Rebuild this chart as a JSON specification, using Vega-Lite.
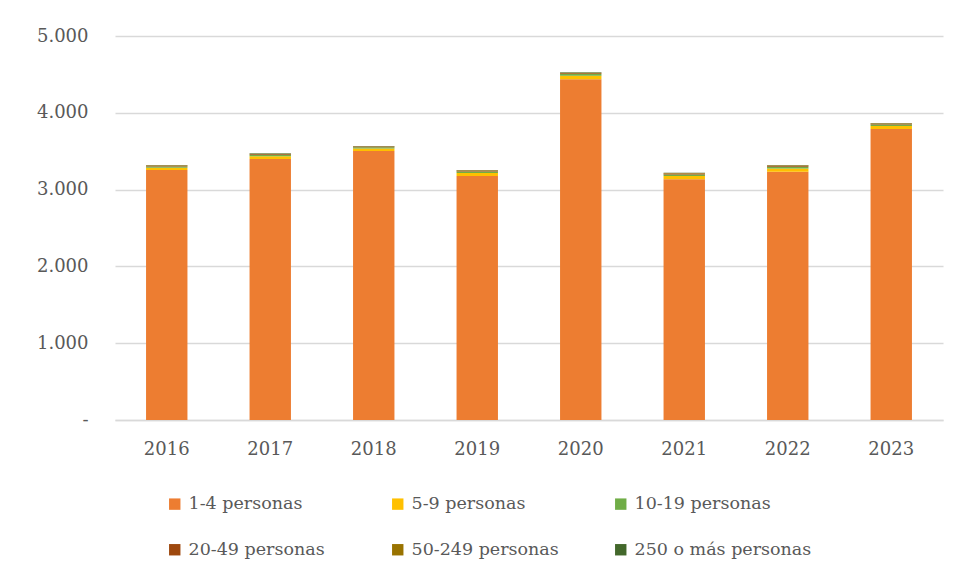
{
  "$schema": "https://vega.github.io/schema/vega-lite/v6.json",
  "width": 828,
  "height": 384,
  "autosize": {"type": "none"},
  "padding": {"left": 115, "top": 36, "right": 16, "bottom": 159},
  "background": "white",
  "config": {
    "font": "DejaVu Serif",
    "view": {"stroke": null}
  },
  "data": {
    "values": [
      {"year": "2016", "cat": "1-4 personas", "value": 3255},
      {"year": "2016", "cat": "5-9 personas", "value": 30},
      {"year": "2016", "cat": "10-19 personas", "value": 17},
      {"year": "2016", "cat": "20-49 personas", "value": 9},
      {"year": "2016", "cat": "50-249 personas", "value": 5},
      {"year": "2016", "cat": "250 o más personas", "value": 4},
      {"year": "2017", "cat": "1-4 personas", "value": 3398},
      {"year": "2017", "cat": "5-9 personas", "value": 35},
      {"year": "2017", "cat": "10-19 personas", "value": 20},
      {"year": "2017", "cat": "20-49 personas", "value": 10},
      {"year": "2017", "cat": "50-249 personas", "value": 5},
      {"year": "2017", "cat": "250 o más personas", "value": 4},
      {"year": "2018", "cat": "1-4 personas", "value": 3503},
      {"year": "2018", "cat": "5-9 personas", "value": 32},
      {"year": "2018", "cat": "10-19 personas", "value": 17},
      {"year": "2018", "cat": "20-49 personas", "value": 8},
      {"year": "2018", "cat": "50-249 personas", "value": 5},
      {"year": "2018", "cat": "250 o más personas", "value": 3},
      {"year": "2019", "cat": "1-4 personas", "value": 3177},
      {"year": "2019", "cat": "5-9 personas", "value": 38},
      {"year": "2019", "cat": "10-19 personas", "value": 20},
      {"year": "2019", "cat": "20-49 personas", "value": 10},
      {"year": "2019", "cat": "50-249 personas", "value": 6},
      {"year": "2019", "cat": "250 o más personas", "value": 4},
      {"year": "2020", "cat": "1-4 personas", "value": 4436},
      {"year": "2020", "cat": "5-9 personas", "value": 45},
      {"year": "2020", "cat": "10-19 personas", "value": 23},
      {"year": "2020", "cat": "20-49 personas", "value": 12},
      {"year": "2020", "cat": "50-249 personas", "value": 7},
      {"year": "2020", "cat": "250 o más personas", "value": 4},
      {"year": "2021", "cat": "1-4 personas", "value": 3134},
      {"year": "2021", "cat": "5-9 personas", "value": 42},
      {"year": "2021", "cat": "10-19 personas", "value": 22},
      {"year": "2021", "cat": "20-49 personas", "value": 11},
      {"year": "2021", "cat": "50-249 personas", "value": 7},
      {"year": "2021", "cat": "250 o más personas", "value": 4},
      {"year": "2022", "cat": "1-4 personas", "value": 3233},
      {"year": "2022", "cat": "5-9 personas", "value": 43},
      {"year": "2022", "cat": "10-19 personas", "value": 22},
      {"year": "2022", "cat": "20-49 personas", "value": 11},
      {"year": "2022", "cat": "50-249 personas", "value": 7},
      {"year": "2022", "cat": "250 o más personas", "value": 4},
      {"year": "2023", "cat": "1-4 personas", "value": 3789},
      {"year": "2023", "cat": "5-9 personas", "value": 38},
      {"year": "2023", "cat": "10-19 personas", "value": 20},
      {"year": "2023", "cat": "20-49 personas", "value": 10},
      {"year": "2023", "cat": "50-249 personas", "value": 6},
      {"year": "2023", "cat": "250 o más personas", "value": 4}
    ]
  },
  "mark": {"type": "bar"},
  "encoding": {
    "x": {
      "field": "year",
      "type": "ordinal",
      "scale": {"paddingInner": 0.6, "paddingOuter": 0.3},
      "axis": {
        "title": null,
        "labelAngle": 0,
        "labelFontSize": 18,
        "labelColor": "#595959",
        "labelPadding": 20,
        "ticks": false,
        "domainColor": "#d9d9d9",
        "domainWidth": 1.5
      }
    },
    "y": {
      "field": "value",
      "type": "quantitative",
      "stack": "zero",
      "scale": {"domain": [0, 5000]},
      "axis": {
        "title": null,
        "values": [0, 1000, 2000, 3000, 4000, 5000],
        "labelExpr": "datum.value == 0 ? '-' : replace(format(datum.value, ','), ',', '.')",
        "labelFontSize": 18,
        "labelColor": "#595959",
        "labelPadding": 27,
        "ticks": false,
        "domain": false,
        "gridColor": "#d9d9d9",
        "gridWidth": 1.5
      }
    },
    "order": {"field": "value", "type": "quantitative", "sort": "descending"},
    "color": {
      "field": "cat",
      "type": "nominal",
      "sort": ["1-4 personas", "5-9 personas", "10-19 personas", "20-49 personas", "50-249 personas", "250 o más personas"],
      "scale": {
        "domain": ["1-4 personas", "5-9 personas", "10-19 personas", "20-49 personas", "50-249 personas", "250 o más personas"],
        "range": ["#ED7D31", "#FFC000", "#70AD47", "#9E480E", "#997300", "#43682B"]
      },
      "legend": {
        "title": null,
        "orient": "none",
        "direction": "horizontal",
        "legendX": 51,
        "legendY": 459,
        "columns": 3,
        "gridAlign": "all",
        "symbolType": "square",
        "symbolSize": 130,
        "symbolStrokeWidth": 0,
        "labelFontSize": 17.5,
        "labelColor": "#595959",
        "labelOffset": 5,
        "columnPadding": 23,
        "rowPadding": 27,
        "labelLimit": 300
      }
    }
  }
}
